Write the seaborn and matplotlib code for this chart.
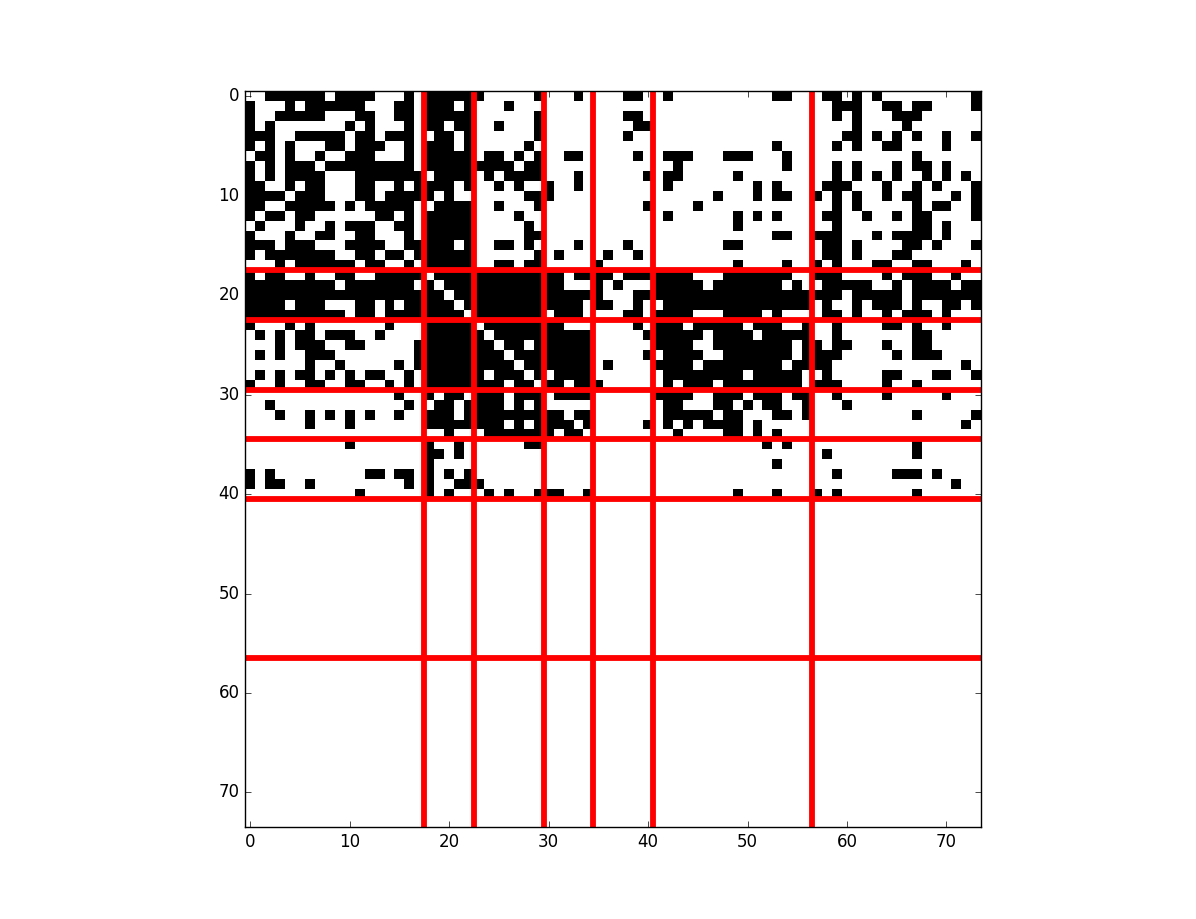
import numpy as np
import seaborn as sns
import matplotlib.pyplot as plt
from matplotlib.colors import ListedColormap

# black cells of each row, as column runs
black_cells = [
    "2-7 9-12 16 18-23 29 33 38-39 42 53-54 58-59 61 63 73",
    "0 4 6-11 15-16 18-20 22 26 59-61 64-65 67-68 73",
    "0 3-7 11-12 15-16 18-22 29 38-39 59 61 65-67",
    "0 2 10 12 16 18-19 21-22 25 29 39-40 61 66",
    "0-2 5-9 11-12 14-16 19-20 22 29 38 60-61 63 65 67 70 73",
    "0 2 4 8-9 11-13 16 18-20 22 28 53 59 61 64-65 70",
    "1-2 4 7 10-12 16 18-22 24-25 27 29 32-33 39 42-44 48-50 54 67",
    "0 2 4-6 8-16 18-26 28-29 43 54 59 61 65 67-68 70",
    "0 2 4-7 11-17 19-22 24 26-29 33 40 42-43 49 59 61 63 65 68 70 72",
    "0-1 4 6-7 11-12 15 17-20 22 25 27 30 33 42 51 53 58-60 64 67 69 73",
    "0-3 5-7 11-12 14-18 20 28-30 47 51 53-54 57 59 61 64 66-67 71 73",
    "0-1 4-8 10 12-16 19-22 25 29 40 45 59 61 67 69-70 73",
    "0 2-3 5-6 13-14 16 18-22 27 42 49 51 53 58-59 62 65 67-68 73",
    "1 5 8 10-12 15-16 18-22 28 49 59 67-68 70",
    "0 4 7-8 11-12 16 18-22 28-29 53-54 57-59 63 65-68 70",
    "0-2 4-6 10-13 16-20 22 25-26 28 33 38 48-49 58-59 61 66-67 69 73",
    "0 2-8 11-12 14-15 17-22 29 31 36 39 58-59 61 65-66",
    "3 5-10 12-13 16 18-22 25-26 28-29 35 49 54 57 59 63-64 67-68 72",
    "0 2-3 6 9-10 13-17 19-31 33-36 38-44 48-54 57-59 64 66-68 71",
    "0-8 10-16 18 20-31 35 37 41-45 47-53 55 58-62 65 67-70 72-73",
    "0-19 21-35 39-59 61-65 67-73",
    "0-3 5-7 11-12 14 16-20 22-33 35-36 39 42-56 58 61 63-65 67 70-71 73",
    "0-9 11-12 14-21 23-29 31-33 38-39 41-44 48-51 53 58-59 61 64 66-68 70",
    "0 4 6 14 18-22 24-31 39 41-43 45-49 51-53 56 59 64-65 67 70",
    "1 3 5-6 8-10 13 18-23 25-34 40-45 47-50 52-56 59 67-68",
    "3 5-7 10-11 17-24 26-27 29-34 41-44 47-54 56-57 59-60 64 67-68",
    "1 3 6-8 17-25 27-34 40 42-45 48-54 56-59 65 67-69",
    "6 9 15 17-26 28-34 36 41-44 46-53 55-58 72",
    "1 3 5-6 8 10 12-13 16 18-23 25-27 29 31-34 42-49 51-55 58 64-65 69-70 73",
    "0 3 6-7 10-11 14 16 18-25 27-28 30-31 33-35 42 44-46 48-55 57-59 64 67",
    "15 18 20-21 23-25 27-29 31-34 41-44 47-49 51-53 55-56 59 64 70",
    "2 16 19-20 22-25 27 29 42-43 47-48 50 52-53 56 60",
    "3 6 8 10 12 15 18-20 22-31 33-34 42-46 48-49 53-54 56 67 73",
    "6 10 18-25 27 29-32 34 40 42 44 46-49 51 72",
    "20 24-30 32-33 43 48-49 51 53",
    "10 18 21 28-29 52 54 67",
    "18-19 21 58 67",
    "18 53",
    "0 2 12-13 15-16 18 20 22 59 65-67 69",
    "0 2-3 6 16 18 21-23 71",
    "11 18 20 24 26 29-31 34 49 53 57 59 67",
]
n_cells = 74
split_at = [17.5, 22.5, 29.5, 34.5, 40.5, 56.5]
tick_labels = [0, 10, 20, 30, 40, 50, 60, 70]

mat = np.zeros((n_cells, n_cells))
for r, row in enumerate(black_cells):
    for run in row.split():
        a, _, b = run.partition("-")
        mat[r, int(a):int(b or a) + 1] = 1

fig = plt.figure(figsize=(11.96, 9.19), dpi=100)
ax = fig.add_axes([245.3 / 1196, 91.7 / 919, 736 / 1196, 736 / 919])
sns.heatmap(mat, cmap=ListedColormap(["white", "black"]), vmin=0, vmax=1,
            cbar=False, square=False, ax=ax)

# heatmap cell i is centred on i + 0.5
for s in split_at:
    ax.axvline(s + 0.5, color="red", lw=4.2)
    ax.axhline(s + 0.5, color="red", lw=4.2)

ax.set_xticks(np.array(tick_labels) + 0.5)
ax.set_yticks(np.array(tick_labels) + 0.5)
ax.set_xticklabels(tick_labels, rotation=0, fontsize=12)
ax.set_yticklabels(tick_labels, rotation=0, fontsize=12)
ax.tick_params(direction="in", top=True, right=True, length=4, width=0.5, pad=4)
for sp in ax.spines.values():
    sp.set_visible(True)
    sp.set_linewidth(1)
    sp.set_color("black")

fig.savefig("out.png", dpi=100)
